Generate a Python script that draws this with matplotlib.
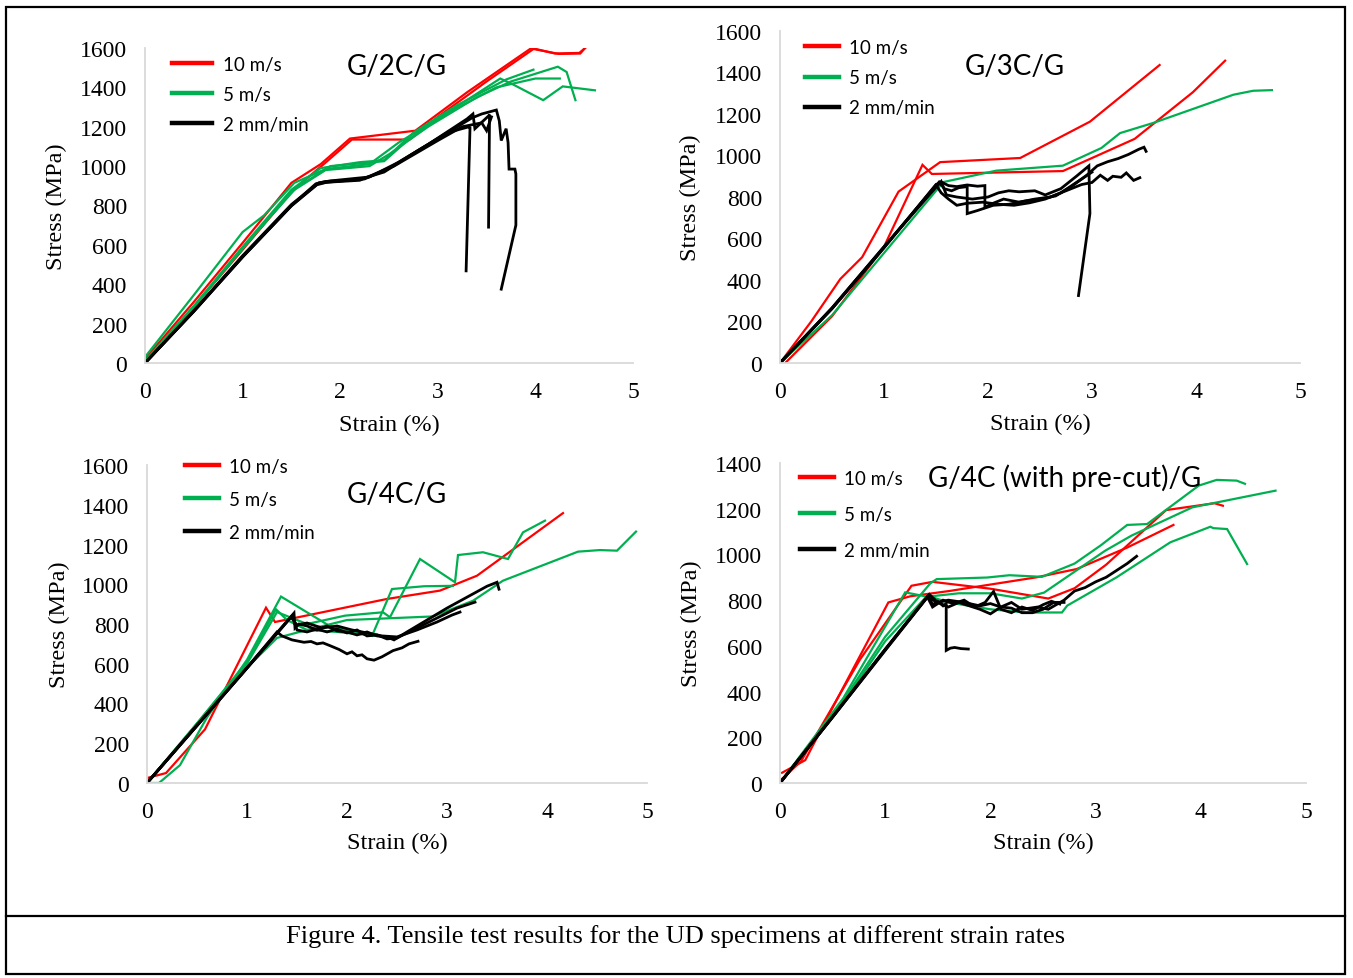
"""Tensile test curves of UD specimens at three strain rates (4 panels)"""
import matplotlib
matplotlib.use('Agg')
import matplotlib.pyplot as plt
from matplotlib.lines import Line2D
from matplotlib.patches import Rectangle

# ---------------------------------------------------------------------------
# Data (strain in %, stress in MPa)
# ---------------------------------------------------------------------------

# G/2C/G
p1_red_strain = [[0, 0.5, 1.0, 1.5, 1.8, 2.1, 2.77, 3.3, 3.96, 4.2, 4.45, 4.51],
                 [0, 0.5, 1.0, 1.52, 1.82, 2.12, 2.71, 3.0, 3.5, 3.98, 4.24, 4.46, 4.52]]
p1_red_stress = [[20, 310, 610, 915, 1010, 1140, 1180, 1375, 1600, 1572, 1575, 1600],
                 [10, 285, 575, 880, 1005, 1135, 1135, 1250, 1430, 1595, 1570, 1572, 1607]]
p1_green_strain = [[0, 0.5, 1.0, 1.22, 1.53, 1.85, 2.3, 2.6, 2.8, 3.0, 3.64, 3.77, 4.08, 4.28, 4.61],
                   [0, 0.5, 1.0, 1.5, 1.8, 2.2, 2.45, 2.75, 3.2, 3.7, 3.98],
                   [0, 0.5, 1.0, 1.5, 1.85, 2.3, 2.5, 2.9, 3.4, 3.75, 4.23, 4.32, 4.41],
                   [0, 0.5, 1.0, 1.55, 1.9, 2.45, 2.7, 3.1, 3.6, 4.0, 4.25]]
p1_green_stress = [[30, 345, 665, 750, 915, 985, 1010, 1120, 1180, 1240, 1445, 1415, 1335, 1405, 1385],
                   [10, 290, 590, 880, 990, 1020, 1030, 1170, 1310, 1440, 1490],
                   [5, 285, 580, 870, 980, 1000, 1060, 1200, 1350, 1430, 1505, 1478, 1335],
                   [0, 285, 585, 890, 1000, 1025, 1135, 1270, 1400, 1445, 1445]]
p1_black_strain = [[0, 0.5, 1.0, 1.5, 1.75, 1.85, 2.2, 2.45, 2.8, 3.1, 3.32, 3.33, 3.29],
                   [0, 0.5, 1.0, 1.5, 1.76, 1.86, 2.2, 2.5, 2.9, 3.3, 3.36, 3.38, 3.52, 3.53, 3.52],
                   [0, 0.5, 1.0, 1.5, 1.78, 1.9, 2.3, 2.6, 3.0, 3.35, 3.45, 3.6, 3.63, 3.65, 3.7,
                    3.72, 3.73, 3.79, 3.8, 3.8, 3.65],
                   [0, 0.5, 1.0, 1.5, 1.77, 1.9, 2.25, 2.55, 3.0, 3.25, 3.45, 3.5, 3.55]]
p1_black_stress = [[0, 265, 540, 800, 910, 922, 932, 970, 1080, 1170, 1200, 1195, 468],
                   [0, 262, 538, 798, 905, 918, 928, 990, 1110, 1240, 1265, 1190, 1255, 1262, 690],
                   [0, 262, 540, 800, 915, 925, 945, 1020, 1140, 1245, 1265, 1285, 1230, 1130, 1190,
                    1120, 985, 985, 960, 700, 375],
                   [0, 265, 545, 805, 912, 920, 935, 1000, 1130, 1200, 1220, 1180, 1250]]

# G/3C/G
p2_red_strain = [[0, 0.3, 0.58, 0.79, 1.14, 1.54, 2.31, 2.98, 3.65],
                 [0.05, 0.5, 1.0, 1.37, 1.46, 2.72, 3.41, 3.97, 4.28]]
p2_red_stress = [[0, 200, 405, 510, 826, 968, 988, 1163, 1436],
                 [0, 225, 560, 955, 911, 925, 1080, 1305, 1457]]
p2_green_strain = [[0, 0.5, 1.0, 1.57, 2.08, 2.72, 3.09, 3.27, 3.59, 4.36, 4.55, 4.73]]
p2_green_stress = [[0, 230, 530, 872, 927, 951, 1036, 1108, 1157, 1293, 1312, 1315]]
p2_black_strain = [[0, 0.5, 1.0, 1.53, 1.58, 1.65, 1.72, 1.8, 1.8, 1.9, 2.05, 2.2, 2.35, 2.5, 2.65,
                    2.8, 2.95, 3.05, 3.15, 3.25, 3.35, 3.45, 3.5, 3.52],
                   [0, 0.5, 1.0, 1.5, 1.56, 1.62, 1.7, 1.8, 1.9, 1.97, 1.97, 2.05, 2.15, 2.3, 2.45,
                    2.6, 2.75, 2.9, 3.0, 3.08, 3.15, 3.2, 3.28, 3.33, 3.4, 3.46],
                   [0, 0.5, 1.0, 1.55, 1.6, 1.7, 1.85, 2.0, 2.1, 2.2, 2.3, 2.45, 2.55, 2.7, 2.85,
                    2.97, 2.98, 2.87],
                   [0, 0.5, 1.0, 1.5, 1.55, 1.62, 1.7, 1.8, 1.95, 2.1, 2.25, 2.4, 2.55, 2.7, 2.85,
                    3.0]]
p2_black_stress = [[0, 265, 560, 872, 840, 830, 845, 850, 720, 735, 760, 765, 780, 790, 805,
                    850, 905, 950, 970, 985, 1005, 1030, 1040, 1020],
                   [0, 262, 555, 860, 870, 855, 850, 858, 852, 855, 750, 770, 790, 775, 790,
                    800, 830, 860, 870, 905, 880, 900, 895, 916, 880, 893],
                   [0, 265, 560, 875, 810, 800, 790, 800, 820, 830, 825, 830, 810, 840, 900,
                    950, 720, 325],
                   [0, 262, 556, 858, 820, 790, 760, 770, 775, 765, 760, 772, 790, 820, 870,
                    920]]

# G/4C/G
p3_red_strain = [[0, 0.19, 0.58, 1.19, 1.28, 2.4, 2.93, 3.3, 4.16]]
p3_red_stress = [[25, 50, 270, 882, 810, 926, 968, 1043, 1358]]
p3_green_strain = [[0.05, 0.12, 0.33, 0.6, 1.0, 1.34, 1.82, 2.25, 2.45, 2.77, 3.06],
                   [0, 0.5, 1.0, 1.3, 1.6, 1.98, 2.36, 2.43, 2.73, 3.08, 3.11, 3.36, 3.61, 3.76, 3.98],
                   [0, 0.5, 1.0, 1.3, 1.6, 2.0, 2.86, 3.26, 3.56, 4.31, 4.53, 4.7, 4.89],
                   [0, 0.5, 1.0, 1.29, 1.4, 1.6, 1.9, 2.2, 2.3]]
p3_green_stress = [[0, 0, 90, 330, 620, 938, 792, 740, 976, 990, 992],
                   [0, 300, 600, 860, 800, 842, 859, 834, 1127, 1010, 1147, 1161, 1127, 1261, 1320],
                   [0, 290, 580, 730, 770, 820, 838, 917, 1018, 1164, 1172, 1169, 1265],
                   [0, 300, 610, 874, 820, 770, 760, 745, 740]]
p3_black_strain = [[0, 0.5, 1.0, 1.3, 1.35, 1.45, 1.57, 1.64, 1.7, 1.76, 1.83, 1.92, 2.0, 2.05, 2.1,
                    2.15, 2.2, 2.27, 2.35, 2.46, 2.55, 2.62, 2.71],
                   [0, 0.5, 1.0, 1.47, 1.48, 1.52, 1.6, 1.7, 1.8, 1.9, 2.0, 2.1, 2.2, 2.3, 2.4, 2.47,
                    2.6, 2.8, 3.0, 3.2, 3.4, 3.5, 3.52],
                   [0, 0.5, 1.0, 1.45, 1.5, 1.6, 1.7, 1.8, 1.9, 2.0, 2.1, 2.2, 2.3, 2.4, 2.5, 2.7,
                    2.9, 3.1, 3.28],
                   [0, 0.5, 1.0, 1.44, 1.5, 1.6, 1.75, 1.9, 2.05, 2.2, 2.35, 2.5, 2.7, 2.9, 3.05, 3.13]]
p3_black_stress = [[0, 290, 580, 760, 740, 720, 708, 712, 700, 705, 691, 672, 650, 660, 640,
                    645, 625, 618, 635, 666, 680, 700, 713],
                   [0, 290, 580, 855, 780, 800, 790, 770, 790, 765, 760, 745, 760, 740, 735, 720,
                    760, 820, 880, 935, 990, 1010, 975],
                   [0, 288, 578, 840, 770, 760, 775, 760, 775, 755, 770, 740, 745, 725, 730, 780,
                    830, 880, 910],
                   [0, 290, 578, 835, 795, 805, 780, 790, 770, 755, 740, 735, 770, 810, 845, 860]]

# G/4C (with pre-cut)/G
p4_red_strain = [[0.02, 0.24, 0.5, 1.03, 1.24, 1.61, 2.44, 2.82, 3.3, 3.74],
                 [0, 0.2, 0.76, 1.25, 1.45, 2.0, 2.55, 2.8, 3.1, 3.67, 4.13, 4.21]]
p4_red_stress = [[45, 100, 330, 790, 817, 840, 900, 936, 1030, 1129],
                 [10, 95, 540, 863, 880, 850, 807, 852, 955, 1194, 1224, 1213]]
p4_green_strain = [[0, 0.6, 1.19, 1.4, 1.7, 2.0, 2.3, 2.51, 3.09, 3.34, 3.92, 4.71],
                   [0, 0.6, 1.0, 1.43, 1.49, 1.97, 2.18, 2.49, 2.8, 3.05, 3.3, 3.49, 3.98, 4.15,
                    4.34, 4.42],
                   [0, 0.6, 1.0, 1.4, 1.6, 2.0, 2.34, 2.68, 2.73, 3.2, 3.71, 4.09, 4.12, 4.25, 4.44]]
p4_green_stress = [[0, 370, 834, 815, 830, 830, 807, 833, 1016, 1082, 1206, 1279],
                   [0, 360, 640, 874, 892, 899, 909, 902, 960, 1040, 1129, 1133, 1301, 1326,
                    1323, 1309],
                   [0, 350, 620, 820, 790, 760, 746, 746, 776, 900, 1053, 1121, 1115, 1111, 958]]
p4_black_strain = [[0, 0.5, 1.0, 1.41, 1.45, 1.5, 1.55, 1.58, 1.58, 1.62, 1.66, 1.72, 1.79],
                   [0, 0.5, 1.0, 1.4, 1.45, 1.55, 1.65, 1.75, 1.85, 1.95, 2.03, 2.1, 2.2, 2.3,
                    2.4, 2.5, 2.58, 2.66],
                   [0, 0.5, 1.0, 1.42, 1.5, 1.6, 1.7, 1.8, 1.9, 2.0, 2.1, 2.2, 2.3, 2.45, 2.55,
                    2.7, 2.8, 2.9, 3.0, 3.1, 3.2, 3.3, 3.39],
                   [0, 0.5, 1.0, 1.4, 1.5, 1.6, 1.75, 1.9, 2.0, 2.1, 2.2, 2.3, 2.4, 2.5, 2.6, 2.7]]
p4_black_stress = [[0, 290, 585, 820, 780, 795, 775, 785, 580, 590, 593, 588, 586],
                   [0, 288, 582, 815, 770, 800, 785, 800, 770, 790, 838, 760, 745, 770,
                    755, 780, 795, 783],
                   [0, 290, 585, 825, 790, 770, 790, 775, 760, 740, 770, 790, 760, 770, 760,
                    800, 840, 855, 880, 900, 930, 960, 992],
                   [0, 288, 580, 812, 790, 800, 790, 775, 785, 770, 765, 745, 745, 760, 790, 790]]

series_labels = ['10 m/s', '5 m/s', '2 mm/min']
panel_titles = ['G/2C/G', 'G/3C/G', 'G/4C/G', 'G/4C (with pre-cut)/G']
y_max = [1600, 1600, 1600, 1400]
caption = 'Figure 4. Tensile test results for the UD specimens at different strain rates'

# ---------------------------------------------------------------------------
# Layout (pixel boxes of the 1353 x 979 original)
# ---------------------------------------------------------------------------
W, H = 1353, 979
RED, GREEN, BLACK = '#FF0000', '#00B050', '#000000'
SERIF = ['Liberation Serif', 'DejaVu Serif']
SANS = ['Lato', 'DejaVu Sans']

# left, right, bottom, top in pixels
boxes = [(145, 633, 364, 49), (780, 1300, 364, 32),
         (147, 647, 784, 466), (780, 1306, 784, 464)]
title_pos = [(397, 67), (1015, 67), (397, 495), (1065, 478)]
legend_pos = [(172, 57), (805, 40), (185, 459), (800, 471)]
legend_handle = [2.15, 1.8, 1.8, 1.8]
legend_space = [0.69, 0.7, 0.84, 1.0]
ylabel_x = [-0.16, -0.152, -0.154, -0.148]
xlabel_y = [-0.16, -0.15, -0.155, -0.154]

panels = [
    (p1_red_strain, p1_red_stress, p1_green_strain, p1_green_stress, p1_black_strain, p1_black_stress),
    (p2_red_strain, p2_red_stress, p2_green_strain, p2_green_stress, p2_black_strain, p2_black_stress),
    (p3_red_strain, p3_red_stress, p3_green_strain, p3_green_stress, p3_black_strain, p3_black_stress),
    (p4_red_strain, p4_red_stress, p4_green_strain, p4_green_stress, p4_black_strain, p4_black_stress),
]

fig = plt.figure(figsize=(W / 100, H / 100), dpi=100)

for i, data in enumerate(panels):
    l, r, b, t = boxes[i]
    ax = fig.add_axes([l / W, 1 - b / H, (r - l) / W, (b - t) / H])

    groups = [(data[0], data[1], RED, 1.6), (data[2], data[3], GREEN, 1.6),
              (data[4], data[5], BLACK, 2.0)]
    for k, (xs, ys, col, lw) in enumerate(groups):
        for j, (x, y) in enumerate(zip(xs, ys)):
            ax.plot(x, y, color=col, lw=lw, solid_joinstyle='miter',
                    label=series_labels[k] if j == 0 else '_nolegend_')

    ax.set_xlim(0, 5)
    ax.set_ylim(0, y_max[i])
    ax.set_xticks(range(0, 6))
    ax.set_yticks(range(0, y_max[i] + 1, 200))
    for s in ['top', 'right']:
        ax.spines[s].set_visible(False)
    for s in ['left', 'bottom']:
        ax.spines[s].set_color('#D9D9D9')
        ax.spines[s].set_linewidth(1.3)
    ax.tick_params(length=0, labelsize=17, pad=13)
    for lab in ax.get_xticklabels() + ax.get_yticklabels():
        lab.set_fontfamily(SERIF)

    ax.set_xlabel('Strain (%)', fontsize=17.5, family=SERIF)
    ax.set_ylabel('Stress (MPa)', fontsize=17.5, family=SERIF)
    ax.xaxis.set_label_coords(0.5, xlabel_y[i])
    ax.yaxis.set_label_coords(ylabel_x[i], 0.5)

    tx, ty = title_pos[i]
    fig.text(tx / W, 1 - ty / H, panel_titles[i], fontsize=20, family=SANS,
             ha='center', va='center')

    lx, ly = legend_pos[i]
    leg = ax.legend(loc='upper left', bbox_to_anchor=(lx / W, 1 - ly / H),
                    bbox_transform=fig.transFigure, frameon=False, borderpad=0,
                    borderaxespad=0, handlelength=legend_handle[i], handletextpad=0.55,
                    labelspacing=legend_space[i], prop={'family': SANS, 'size': 13.5})
    for h in leg.get_lines():
        h.set_linewidth(3.2)

# caption box and frame
fig.add_artist(Rectangle((6 / W, 1 - 975 / H), 1339 / W, 967 / H, transform=fig.transFigure,
                         fill=False, edgecolor='black', lw=1.6))
fig.add_artist(Line2D([6 / W, 1345 / W], [1 - 917 / H, 1 - 917 / H], transform=fig.transFigure,
                      color='black', lw=1.6))
fig.text(676 / W, 1 - 937 / H, caption, fontsize=19, family=SERIF, ha='center', va='center')

fig.savefig('out.png', dpi=100)
